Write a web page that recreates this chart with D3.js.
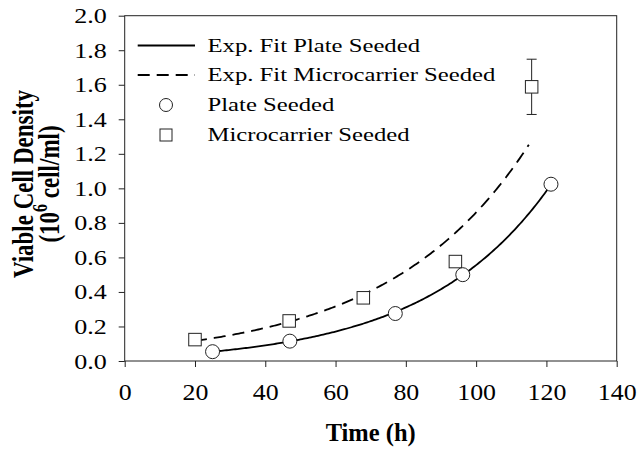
<!DOCTYPE html>
<html>
<head>
<meta charset="utf-8">
<script src="https://cdn.jsdelivr.net/npm/d3@7"></script>
<style>
  html, body { margin: 0; padding: 0; background: #fff; }
  svg { display: block; }
  text { font-family: "Liberation Serif", "Times New Roman", serif; fill: #000; }
</style>
</head>
<body>
<svg id="chart" width="639" height="451"></svg>
<script>
// ---- data ----
const plateTime = [25, 47, 77, 96.2, 121.3];
const plateDensity = [0.054, 0.115, 0.275, 0.50, 1.024];
const microTime = [20, 46.8, 67.9, 94.1, 115.8];
const microDensity = [0.124, 0.232, 0.366, 0.576, 1.588];
const microError = [0, 0, 0, 0, 0.16];
// exponential fits: y = y0 + a * exp(b * t)
const plateFit = [-0.016, 0.03475, 0.028];
const plateFitRange = [25, 121.3];
const microFit = [0, 0.0705, 0.02502];
const microFitRange = [20, 115];
const xTicks = [0, 20, 40, 60, 80, 100, 120, 140];
const yTicks = [0, 0.2, 0.4, 0.6, 0.8, 1.0, 1.2, 1.4, 1.6, 1.8, 2.0];
const legendLabels = ["Exp. Fit Plate Seeded", "Exp. Fit Microcarrier Seeded", "Plate Seeded", "Microcarrier Seeded"];

const svg = d3.select("#chart");
const x = d3.scaleLinear().domain([0, 140]).range([124.7, 616.7]);
const y = d3.scaleLinear().domain([0, 2]).range([361, 15.7]);

// frame
svg.append("rect")
  .attr("x", x(0)).attr("y", y(2))
  .attr("width", x(140) - x(0)).attr("height", y(0) - y(2))
  .attr("fill", "none").attr("stroke", "#222").attr("stroke-width", 1);

// y axis
const gy = svg.append("g").attr("transform", `translate(${x(0)},0)`)
  .call(d3.axisLeft(y).tickValues(yTicks).tickFormat(d3.format(".1f")).tickSize(6).tickSizeOuter(0));
gy.select(".domain").remove();
gy.selectAll("line").attr("stroke", "#222");
gy.selectAll("text")
  .attr("x", null).attr("dy", null)
  .attr("text-anchor", "end")
  .style("font-size", "20.5px")
  .style("font-family", "'Liberation Serif', 'Times New Roman', serif")
  .attr("transform", "translate(-18,7) scale(1.27,1)");

// x axis
const gx = svg.append("g").attr("transform", `translate(0,${y(0)})`)
  .call(d3.axisBottom(x).tickValues(xTicks).tickFormat(d3.format("d")).tickSize(6).tickSizeOuter(0));
gx.select(".domain").remove();
gx.selectAll("line").attr("stroke", "#222");
gx.selectAll("text")
  .attr("y", null).attr("dy", null)
  .attr("text-anchor", "middle")
  .style("font-size", "22.5px")
  .style("font-family", "'Liberation Serif', 'Times New Roman', serif")
  .attr("transform", "translate(0,39) scale(1.15,1)");

// axis titles
svg.append("text")
  .attr("x", (x(0) + x(140)) / 2).attr("y", 440.5)
  .attr("text-anchor", "middle")
  .style("font-size", "24.5px").style("font-weight", "bold")
  .text("Time (h)");

const yt = svg.append("g").attr("transform", "translate(33,184) rotate(-90) scale(1,1.25)");
yt.append("text").attr("x", 0).attr("y", 0)
  .attr("text-anchor", "middle")
  .style("font-size", "23px").style("font-weight", "bold")
  .text("Viable Cell Density");
const l2 = yt.append("text").attr("x", 0).attr("y", 20.5)
  .attr("text-anchor", "middle")
  .style("font-size", "23px").style("font-weight", "bold");
l2.append("tspan").text("(10");
l2.append("tspan").attr("dy", -9).style("font-size", "16px").text("6");
l2.append("tspan").attr("dy", 9).text(" cell/ml)");

// fit curves
function fitPoints(p, range) {
  return d3.range(range[0], range[1] + 0.001, 0.5).concat([range[1]])
    .map(t => [t, p[0] + p[1] * Math.exp(p[2] * t)]);
}
const line = d3.line().x(d => x(d[0])).y(d => y(d[1]));
svg.append("path").datum(fitPoints(plateFit, plateFitRange))
  .attr("d", line).attr("fill", "none").attr("stroke", "#000").attr("stroke-width", 1.8);
svg.append("path").datum(fitPoints(microFit, microFitRange))
  .attr("d", line).attr("fill", "none").attr("stroke", "#000").attr("stroke-width", 1.8)
  .attr("stroke-dasharray", "12,7");

// error bars
const microData = microTime.map((t, i) => ({ t, v: microDensity[i], e: microError[i] }));
const eb = svg.append("g").selectAll("g").data(microData.filter(d => d.e > 0)).join("g");
eb.append("line").attr("x1", d => x(d.t)).attr("x2", d => x(d.t))
  .attr("y1", d => y(d.v - d.e)).attr("y2", d => y(d.v + d.e)).attr("stroke", "#222").attr("stroke-width", 1);
eb.append("line").attr("x1", d => x(d.t) - 5).attr("x2", d => x(d.t) + 5)
  .attr("y1", d => y(d.v + d.e)).attr("y2", d => y(d.v + d.e)).attr("stroke", "#222").attr("stroke-width", 1);
eb.append("line").attr("x1", d => x(d.t) - 5).attr("x2", d => x(d.t) + 5)
  .attr("y1", d => y(d.v - d.e)).attr("y2", d => y(d.v - d.e)).attr("stroke", "#222").attr("stroke-width", 1);

// markers
const sq = 12.5;
svg.append("g").selectAll("rect").data(microData).join("rect")
  .attr("x", d => x(d.t) - sq / 2).attr("y", d => y(d.v) - sq / 2)
  .attr("width", sq).attr("height", sq)
  .attr("fill", "#fff").attr("stroke", "#222").attr("stroke-width", 1);
const plateData = plateTime.map((t, i) => ({ t, v: plateDensity[i] }));
svg.append("g").selectAll("circle").data(plateData).join("circle")
  .attr("cx", d => x(d.t)).attr("cy", d => y(d.v)).attr("r", 7)
  .attr("fill", "#fff").attr("stroke", "#222").attr("stroke-width", 1);

// legend
const legY = [45.5, 75, 105, 135];
const lg = svg.append("g");
lg.append("line").attr("x1", 137.7).attr("x2", 195).attr("y1", legY[0]).attr("y2", legY[0])
  .attr("stroke", "#000").attr("stroke-width", 1.8);
lg.append("line").attr("x1", 137.7).attr("x2", 195).attr("y1", legY[1]).attr("y2", legY[1])
  .attr("stroke", "#000").attr("stroke-width", 1.8).attr("stroke-dasharray", "12,7");
lg.append("circle").attr("cx", 166).attr("cy", legY[2]).attr("r", 6.5)
  .attr("fill", "#fff").attr("stroke", "#222");
lg.append("rect").attr("x", 166 - 6).attr("y", legY[3] - 6).attr("width", 12).attr("height", 12)
  .attr("fill", "#fff").attr("stroke", "#222");
lg.selectAll("text").data(legendLabels).join("text")
  .attr("transform", (d, i) => `translate(207.5,${legY[i] + 6}) scale(1.3,1)`)
  .style("font-size", "19px")
  .text(d => d);
</script>
</body>
</html>
